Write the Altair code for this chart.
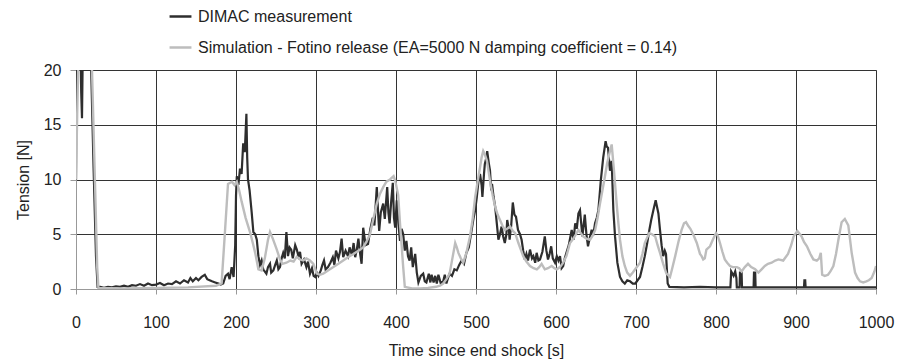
import altair as alt
import pandas as pd

# ---------------- DIMAC measurement (time [s], tension [N]) ----------------
meas_time = [
    0, 1, 5, 6.5, 7.5, 8.5, 10, 16, 19, 22,
    25, 27, 30, 35, 40, 45, 50, 55, 60, 65,
    70, 75, 80, 85, 90, 95, 100, 105, 110, 115,
    120, 125, 130, 135, 140, 143, 146, 150, 153, 157,
    161, 164, 167, 170, 174, 178, 181, 184, 187, 190,
    192, 194.6, 197, 199, 200, 201, 203, 205, 207, 209,
    211, 213, 214, 215, 217, 219.6, 221.7, 224, 226, 228,
    230, 232, 234, 238, 240, 242.5, 244, 246.7, 249, 251,
    253, 255, 257, 259, 261, 263, 265, 267, 269, 271,
    274, 276, 278, 280, 282, 285, 288, 290, 292.5, 295,
    297, 299, 301, 303, 306, 308, 310, 312, 315, 318,
    321, 323, 325, 328, 330, 332, 334, 337, 340, 342,
    345, 347, 349, 351, 353, 355, 357, 359, 362, 365,
    368, 371, 373, 376, 378, 379, 381, 384, 386, 389,
    390.5, 392, 394, 396, 397.5, 399, 401, 403, 405, 407,
    409, 411, 413, 415, 417, 419, 421, 424, 426, 428,
    431, 434, 436, 438, 441, 443, 444.5, 447, 449, 451,
    453, 456, 459, 461, 463, 465, 467, 470, 473, 476,
    479, 482, 485, 488, 491, 494.6, 497, 499, 501, 503,
    505, 507, 508, 510, 511, 513, 514, 516, 517.5, 519,
    520, 522, 524, 526, 528, 530, 532, 534, 536, 538,
    539, 541, 542, 544, 546, 548, 550, 552.5, 555, 557,
    559, 561, 563, 565, 567.5, 570, 571.7, 574, 575.8, 578,
    580, 583, 586, 588, 590, 592, 594, 596, 598.8, 601,
    603, 605, 607, 609, 611, 613, 616, 619.6, 622, 624,
    626, 628, 630, 631.5, 633, 634.5, 636, 638, 640, 642,
    644.6, 646.5, 648.8, 651, 653, 656, 659, 662, 663.5, 665,
    667.5, 669.6, 671.7, 673.8, 676.7, 680, 683, 686, 689, 692.5,
    696, 699, 702, 705, 708, 711, 714, 716.7, 719, 721.7,
    724.6, 726, 728, 730, 732, 734, 736, 737.5, 739.6, 741.7,
    760, 780, 800, 818, 819, 822, 824, 825.5, 826, 829.5,
    830, 832, 832.5, 847, 847.5, 849, 849.5, 880, 910, 910.5,
    911.5, 912, 950, 1000,
]
meas_tension = [
    10, 25, 25, 18, 15.6, 22, 26, 26, 20, 11,
    3, 0.2, 0.2, 0.1, 0.2, 0.15, 0.25, 0.2, 0.3, 0.2,
    0.35, 0.3, 0.45, 0.3, 0.5, 0.35, 0.4, 0.55, 0.35, 0.5,
    0.45, 0.7, 0.5, 0.8, 0.6, 1.0, 0.7, 1.0, 0.8, 1.1,
    1.3, 0.9, 0.8, 0.7, 0.6, 0.5, 0.4, 0.5, 1.2, 1.4,
    0.9, 2.0, 1.1, 4.0, 8.5, 10.3, 9.5, 11.0, 10.5, 13.3,
    12.5, 16.0, 12.0, 10.0, 9.0, 7.0, 5.2, 5.0, 4.5, 3.0,
    2.2, 2.6, 1.8, 1.4, 2.0, 2.3, 1.5, 1.7, 2.2, 2.6,
    1.8, 2.0, 2.8, 3.3, 2.8, 5.2, 3.0, 3.8, 3.6, 2.8,
    4.0, 3.6, 3.0, 3.4, 2.3, 2.7, 2.0, 2.5, 1.4, 1.9,
    1.2, 1.1, 1.5, 1.2, 1.7, 2.2, 2.6, 1.8, 2.0, 2.4,
    2.9, 2.2, 3.5, 2.8, 3.4, 4.6, 2.9, 3.5, 3.0, 3.8,
    3.1, 4.2, 2.9, 3.6, 4.6, 3.3, 2.3, 5.6, 4.0, 4.1,
    5.5, 6.5, 5.8, 9.3, 6.5, 5.3, 7.0, 7.8, 6.4, 9.3,
    7.0, 6.0, 8.0, 9.7, 6.5, 5.6, 8.1, 6.0, 4.4, 5.5,
    5.0, 3.5, 4.4, 3.0, 2.6, 3.8, 2.0, 3.2, 1.5, 0.6,
    1.2, 1.4, 0.7, 0.6, 1.4, 0.6, 1.3, 0.6, 1.2, 0.5,
    1.3, 0.5, 0.7, 1.3, 0.5, 1.0, 1.4, 1.2, 1.8, 1.7,
    2.2, 2.6, 2.3, 3.3, 3.8, 5.4, 6.5, 7.2, 8.4, 9.8,
    10.5, 9.5, 8.4, 10.5, 11.4, 12.0, 12.6, 11.5, 10.8, 9.0,
    9.6, 8.4, 7.5, 6.0, 4.5, 5.0, 5.7, 4.8, 4.2, 5.0,
    6.3, 5.5, 4.5, 5.8, 7.9, 6.8, 6.6, 5.4, 5.0, 4.5,
    3.5, 2.7, 3.2, 2.6, 3.6, 2.8, 3.0, 2.4, 3.3, 2.6,
    2.7, 3.4, 4.8, 3.5, 2.7, 3.2, 3.9, 2.8, 2.4, 3.0,
    2.6, 3.0, 1.9, 2.1, 2.8, 3.3, 4.0, 5.4, 4.5, 6.0,
    5.5, 6.9, 7.2, 6.0, 4.8, 5.8, 6.8, 5.0, 3.9, 4.6,
    5.4, 4.9, 6.0, 6.5, 7.2, 9.9, 12.0, 13.5, 13.0, 12.9,
    10.8, 11.7, 7.2, 4.8, 2.4, 1.1, 0.7, 0.5, 0.8, 0.7,
    0.5, 0.5, 0.8, 1.1, 2.0, 3.0, 4.2, 5.4, 6.3, 7.2,
    8.1, 7.6, 6.9, 5.4, 4.0, 3.0, 3.5, 3.2, 0.5, 0.2,
    0.15, 0.2, 0.15, 0.15, 1.6, 1.2, 1.6, 1.0, 0.15, 0.15,
    1.5, 1.5, 0.15, 0.15, 1.5, 1.5, 0.15, 0.15, 0.15, 0.8,
    0.8, 0.15, 0.15, 0.15,
]

# ---------------- Simulation (time [s], tension [N]) ----------------
sim_time = [
    0, 1.5, 2.7, 5, 17, 20, 24, 26.5, 28, 60,
    100, 140, 175, 182, 186, 190, 195, 198, 201, 204,
    207, 212, 217.5, 221, 224, 228, 232, 236, 240, 242.5,
    246, 251, 255, 258, 263, 268, 272, 276, 280, 284,
    288, 292.5, 296.7, 301, 305, 309, 315, 321.7, 328, 334,
    340, 346.7, 353, 359, 363, 367.5, 372, 376, 380, 384,
    388, 392.5, 397, 399, 402.7, 405, 407, 409, 411, 420,
    430, 440, 450, 455, 459, 463, 467, 471, 474, 476,
    478, 481, 484, 488, 492.5, 496, 499, 502, 505, 507,
    509, 511, 513.7, 517.5, 521, 524, 527, 530, 533, 536,
    539, 542.5, 546, 549, 553, 556, 559, 563, 567.5, 572,
    576, 579, 582, 586, 590, 594.6, 598, 601, 605, 609,
    613, 617.5, 621.7, 625, 628, 631, 634, 638, 642.5, 646,
    649, 652, 655, 658, 661, 664, 667.5, 669.6, 672.5, 675.8,
    678, 680, 683, 686, 689, 692.5, 696, 699, 702, 705,
    708, 711, 714, 716.7, 720, 724, 727, 730, 734, 738,
    742.5, 745, 749, 753, 757, 760, 762.5, 765, 768, 772,
    776, 780, 782, 784, 786, 788, 792.5, 796, 800, 802,
    805, 808, 811, 814, 817.5, 821, 826, 829, 832, 836,
    840, 844, 849, 853, 857, 861, 865, 869.6, 874, 878,
    884, 887, 890, 894, 897, 901.7, 904, 907, 910, 913.7,
    918, 921.7, 926, 929, 931, 932.7, 936, 940, 943, 946.7,
    950, 953, 957, 961, 965.4, 969.6, 973.8, 977, 980, 984,
    988, 991, 994.6, 998, 1000,
]
sim_tension = [
    10, 16, 20, 26, 26, 20, 9, 2, 0.1, 0.05,
    0.1, 0.15, 0.3, 0.5, 5.0, 9.6, 9.8, 9.5, 9.8, 9.0,
    8.0, 6.5, 5.2, 4.2, 3.3, 1.8, 1.7, 2.8, 4.5, 5.2,
    4.6, 3.6, 2.7, 2.3, 2.4, 2.6, 2.5, 2.95, 2.7, 2.6,
    2.8, 2.6, 2.3, 1.4, 1.3, 1.4, 1.7, 2.0, 2.3, 2.6,
    2.9, 3.2, 3.5, 3.8, 4.3, 5.0, 6.5, 7.8, 8.7, 9.3,
    9.8, 10.0, 10.3, 9.9, 8.6, 6.0, 4.0, 2.0, 0.2, 0.05,
    0.05, 0.1, 0.2, 0.3, 0.5, 0.9, 1.4, 3.0, 4.2, 3.8,
    3.3, 2.8, 2.4, 3.3, 4.8, 6.5, 8.4, 9.8, 11.1, 12.0,
    12.6, 12.3, 11.7, 9.9, 8.5, 7.5, 6.8, 6.3, 5.8, 5.4,
    5.5, 5.7, 5.3, 5.1, 4.2, 3.6, 3.0, 2.5, 2.1, 1.9,
    1.8, 2.0, 2.3, 1.8, 1.9, 2.1, 1.9, 1.8, 2.0, 2.4,
    3.0, 4.2, 4.6, 5.0, 5.4, 5.1, 4.8, 4.6, 4.5, 4.9,
    5.4, 6.5, 7.8, 9.0, 10.2, 11.5, 12.6, 13.2, 10.8, 7.8,
    6.0, 4.5, 3.0, 2.1, 1.5, 1.2, 1.5, 1.8, 2.1, 2.4,
    3.2, 4.2, 4.7, 5.1, 5.0, 4.8, 4.0, 3.3, 2.3, 1.4,
    1.1, 1.8, 3.0, 4.3, 5.4, 6.0, 6.1, 5.8, 5.5, 4.9,
    4.2, 3.2, 3.0, 2.7, 2.8, 3.6, 3.9, 4.5, 5.1, 4.9,
    4.2, 3.4, 2.7, 2.4, 2.1, 2.0, 2.0, 1.9, 1.6, 2.0,
    2.3, 2.0, 1.8, 1.5, 1.8, 2.1, 2.3, 2.4, 2.6, 2.7,
    2.6, 2.9, 3.2, 4.0, 4.8, 5.3, 5.1, 4.8, 4.3, 3.9,
    3.2, 2.7, 2.6, 2.8, 3.3, 1.3, 1.2, 1.3, 1.6, 2.1,
    3.2, 4.5, 6.1, 6.4, 5.8, 3.3, 1.5, 1.0, 0.7, 0.6,
    0.7, 0.8, 1.0, 1.6, 2.1,
]

series_names = [
    "DIMAC measurement",
    "Simulation - Fotino release (EA=5000 N damping coefficient = 0.14)",
]
series_colors = ["#2e2e2e", "#bdbdbd"]
x_ticks = [0, 100, 200, 300, 400, 500, 600, 700, 800, 900, 1000]
y_ticks = [0, 5, 10, 15, 20]

assert len(meas_time) == len(meas_tension)
assert len(sim_time) == len(sim_tension)

df_meas = pd.DataFrame({"t": meas_time, "v": meas_tension, "s": series_names[0]})
df_sim = pd.DataFrame({"t": sim_time, "v": sim_tension, "s": series_names[1]})

FONT = "Liberation Sans"

x_enc = alt.X(
    "t:Q",
    scale=alt.Scale(domain=[0, 1000], nice=False),
    axis=alt.Axis(
        values=x_ticks, format="d", title="Time since end shock [s]", grid=True,
        labelFontSize=16, titleFontSize=16, labelPadding=20, titlePadding=12,
        tickSize=5, labelFlush=False,
    ),
)
y_enc = alt.Y(
    "v:Q",
    scale=alt.Scale(domain=[0, 20], nice=False),
    axis=alt.Axis(
        values=y_ticks, format="d", title="Tension [N]", grid=True,
        labelFontSize=16, titleFontSize=16, labelPadding=9, titlePadding=12,
        tickSize=6, labelFlush=False,
    ),
)
color_enc = alt.Color(
    "s:N",
    scale=alt.Scale(domain=series_names, range=series_colors),
    legend=alt.Legend(
        title=None, orient="none", legendX=92, legendY=-66, padding=0,
        symbolType="stroke", symbolStrokeWidth=2.5, symbolSize=480,
        labelFontSize=16, labelFont=FONT, labelLimit=800, labelOffset=5,
        rowPadding=10, labelColor="#222222",
    ),
)

meas = alt.Chart(df_meas).mark_line(strokeWidth=2.2, clip=True).encode(
    x=x_enc, y=y_enc, color=color_enc, order="t:Q"
)
sim = alt.Chart(df_sim).mark_line(strokeWidth=2.4, clip=True).encode(
    x=x_enc, y=y_enc, color=color_enc, order="t:Q"
)

chart = (
    alt.layer(meas, sim)
    .properties(
        width=800, height=219,
        autosize=alt.AutoSizeParams(type="none"),
        padding={"left": 76, "top": 70, "right": 24, "bottom": 75},
        background="white",
    )
    .configure_view(stroke="#aaaaaa", strokeWidth=1)
    .configure_axis(
        labelFont=FONT, titleFont=FONT, labelColor="#222222", titleColor="#222222",
        titleFontWeight="normal", gridColor="#333333", gridWidth=1,
        domainColor="#999999", tickColor="#999999", gridOpacity=1,
    )
)

chart.save("out.html", embed_options={"renderer": "svg", "actions": False})
